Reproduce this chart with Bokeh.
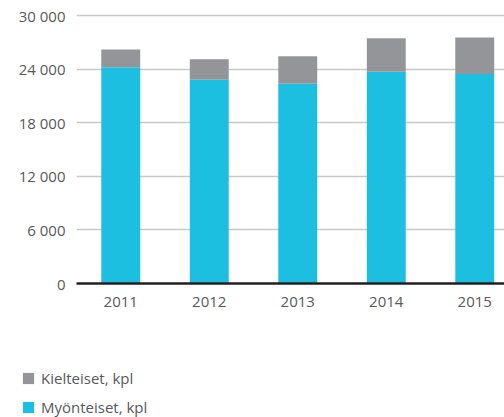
from bokeh.plotting import figure
from bokeh.layouts import column
from bokeh.models import Range1d, FixedTicker, Legend, LegendItem, ColumnDataSource
from bokeh.embed import file_html
from bokeh.resources import INLINE

# ---- data ----
years = [2011, 2012, 2013, 2014, 2015]
approved = [24200, 22800, 22350, 23700, 23450]   # Myönteiset, kpl
rejected = [2000, 2300, 3100, 3750, 4100]        # Kielteiset, kpl
series_names = ["Myönteiset, kpl", "Kielteiset, kpl"]
y_ticks = [0, 6000, 12000, 18000, 24000, 30000]
y_tick_labels = ["0", "6 000", "12 000", "18 000", "24 000", "30 000"]

BLUE = "#1dbfe0"
GREY = "#939598"
TEXT = "#58595b"
FONT = "Open Sans"

src = ColumnDataSource(dict(year=years, approved=approved, rejected=rejected))

p = figure(width=504, height=330, output_backend="svg", toolbar_location=None,
           x_range=Range1d(2010.5, 2015.336), y_range=Range1d(0, 30560),
           min_border_left=76, min_border_right=0, min_border_top=10,
           min_border_bottom=47)
p.frame_align = False
p.outline_line_color = None
p.background_fill_color = "white"
p.border_fill_color = "white"

rs = p.vbar_stack(["approved", "rejected"], x="year", width=0.44,
                  color=[BLUE, GREY], line_color=None, source=src)

p.xgrid.grid_line_color = None
p.ygrid.ticker = FixedTicker(ticks=y_ticks)
p.ygrid.grid_line_color = "#c7c8ca"
p.ygrid.grid_line_width = 1.5

p.yaxis.ticker = FixedTicker(ticks=y_ticks)
p.yaxis.major_label_overrides = {t: l for t, l in zip(y_ticks, y_tick_labels)}
p.yaxis.axis_line_color = None
p.yaxis.major_tick_line_color = None
p.yaxis.minor_tick_line_color = None
p.yaxis.major_label_standoff = 5
p.yaxis.major_label_text_font = FONT
p.yaxis.major_label_text_font_size = "15px"
p.yaxis.major_label_text_color = TEXT

p.xaxis.ticker = FixedTicker(ticks=years)
p.xaxis.major_label_overrides = {y: str(y) for y in years}
p.xaxis.axis_line_color = "#231f20"
p.xaxis.axis_line_width = 2.5
p.xaxis.major_tick_line_color = None
p.xaxis.minor_tick_line_color = None
p.xaxis.major_label_standoff = 7
p.xaxis.major_label_text_font = FONT
p.xaxis.major_label_text_font_size = "15px"
p.xaxis.major_label_text_color = TEXT

# ---- legend panel (its own frame spans the full width) ----
lg = figure(width=504, height=87, output_backend="svg", toolbar_location=None,
            x_range=Range1d(0, 1), y_range=Range1d(0, 1),
            x_axis_type=None, y_axis_type=None,
            min_border=0, min_border_left=0, min_border_right=0,
            min_border_top=0, min_border_bottom=0)
lg.frame_align = False
lg.outline_line_color = None
lg.background_fill_color = "white"
lg.border_fill_color = "white"
# legend swatches only (no visible marks: the single point lies outside the range)
off = ColumnDataSource(dict(x=[5], top=[1]))
leg_rej = lg.vbar(x="x", top="top", width=0.1, color=GREY, line_color=None, source=off)
leg_app = lg.vbar(x="x", top="top", width=0.1, color=BLUE, line_color=None, source=off)

legend = Legend(items=[LegendItem(label=series_names[1], renderers=[leg_rej]),
                       LegendItem(label=series_names[0], renderers=[leg_app])],
                location=(21, 0))
legend.padding = 0
legend.margin = 0
legend.border_line_color = None
legend.background_fill_alpha = 0
legend.glyph_width = 14
legend.glyph_height = 14
legend.label_height = 14
legend.spacing = 9
legend.label_standoff = 6
legend.label_text_font = FONT
legend.label_text_font_size = "15px"
legend.label_text_color = TEXT
lg.add_layout(legend, "center")

layout = column(p, lg, spacing=0)
open("out.html", "w").write(file_html(layout, INLINE))
